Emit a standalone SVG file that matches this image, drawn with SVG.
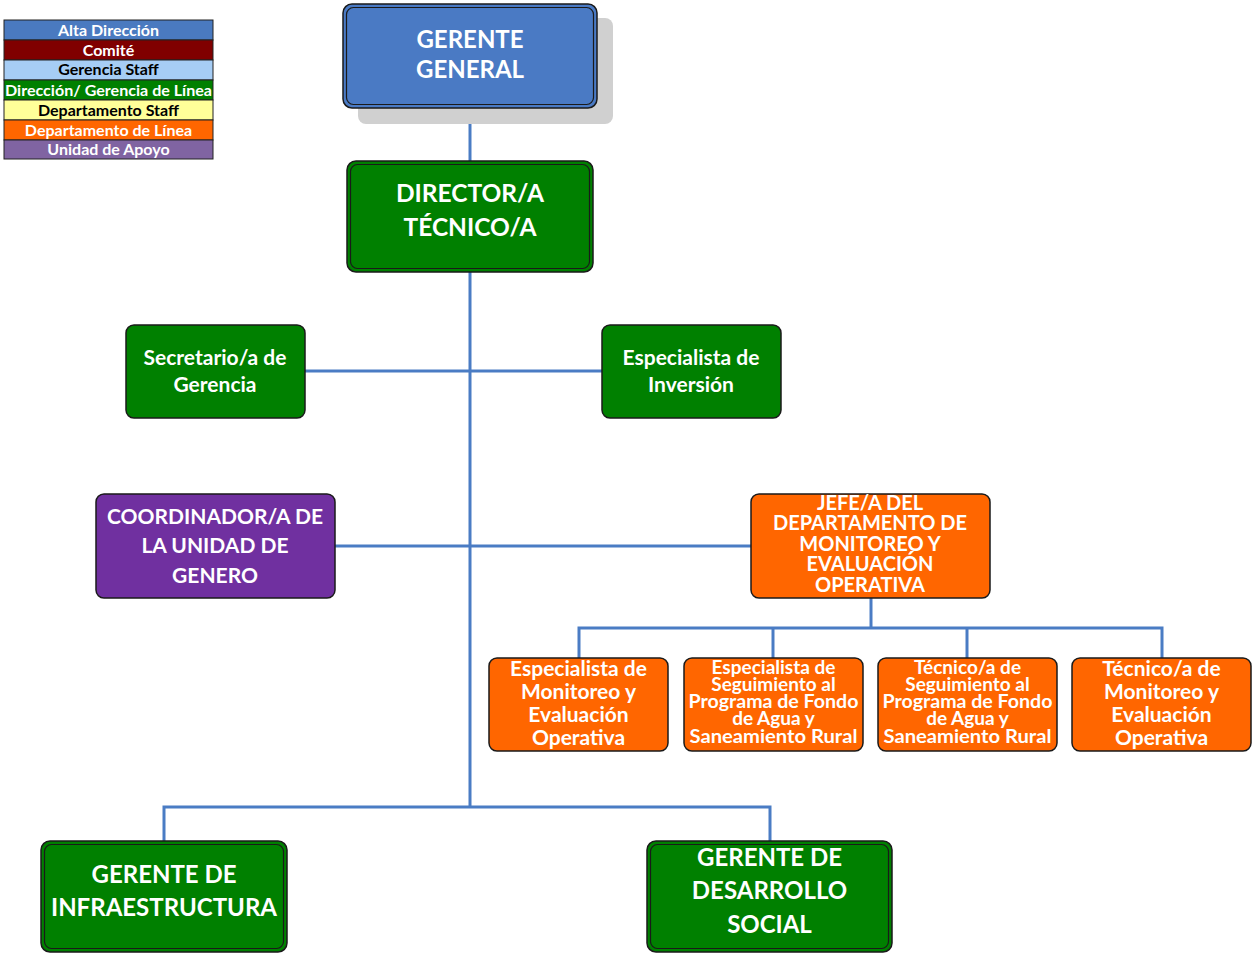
<svg xmlns="http://www.w3.org/2000/svg" width="1252" height="957" viewBox="0 0 1252 957">
<style>
text{font-family:Lato,"Open Sans","Liberation Sans",sans-serif;font-weight:bold;text-anchor:middle}
.w{fill:#fff}
.k{fill:#000}
.box{stroke:#1a1a1a;stroke-width:1.5}
.inner{fill:none;stroke:#1a1a1a;stroke-width:1.2}
.green{fill:#008000}
.orange{fill:#ff6600}
.purple{fill:#7030a0}
.blue{fill:#4a7ac4}
.conn{stroke:#4a7cc4;stroke-width:3;fill:none}
.leg{stroke:#222;stroke-width:1}
.lt{font-size:16px}
</style>
<g id="legend">
<rect class="leg" x="4" y="20" width="209" height="20" fill="#4a7ac0"/>
<rect class="leg" x="4" y="40" width="209" height="20" fill="#800000"/>
<rect class="leg" x="4" y="60" width="209" height="20" fill="#a6cdf5"/>
<rect class="leg" x="4" y="80" width="209" height="20" fill="#008000"/>
<rect class="leg" x="4" y="100" width="209" height="20" fill="#ffff99"/>
<rect class="leg" x="4" y="120" width="209" height="20" fill="#ff6600"/>
<rect class="leg" x="4" y="140" width="209" height="19" fill="#8064a2"/>
<text class="lt w" x="108.5" y="36">Alta Dirección</text>
<text class="lt w" x="108.5" y="56">Comité</text>
<text class="lt k" x="108.5" y="75">Gerencia Staff</text>
<text class="lt w" x="108.5" y="96" textLength="207" lengthAdjust="spacingAndGlyphs">Dirección/ Gerencia de Línea</text>
<text class="lt k" x="108.5" y="116">Departamento Staff</text>
<text class="lt w" x="108.5" y="136">Departamento de Línea</text>
<text class="lt w" x="108.5" y="155">Unidad de Apoyo</text>
</g>
<g id="connectors">
<line class="conn" x1="470" y1="108" x2="470" y2="162"/>
<line class="conn" x1="470" y1="272" x2="470" y2="807"/>
<line class="conn" x1="305" y1="371" x2="602" y2="371"/>
<line class="conn" x1="335" y1="546" x2="751" y2="546"/>
<line class="conn" x1="871" y1="598" x2="871" y2="628"/>
<polyline class="conn" points="579,658 579,628 1162,628 1162,658"/>
<line class="conn" x1="773" y1="628" x2="773" y2="658"/>
<line class="conn" x1="967" y1="628" x2="967" y2="658"/>
<polyline class="conn" points="164,841 164,807 770,807 770,841"/>
</g>
<g id="gerente-general">
<rect x="358" y="18" width="255" height="106" rx="8" fill="#d0d0d0"/>
<rect class="box blue" x="343" y="4" width="254" height="104" rx="9"/>
<rect class="inner" x="346.5" y="7.5" width="247" height="97" rx="7"/>
<text class="w" x="470" y="48" font-size="24">GERENTE</text>
<text class="w" x="470" y="78" font-size="24">GENERAL</text>
</g>
<g id="director-tecnico">
<rect class="box green" x="347" y="161" width="246" height="111" rx="9"/>
<rect class="inner" x="350.5" y="164.5" width="239" height="104" rx="7"/>
<text class="w" x="470" y="202" font-size="24.5">DIRECTOR/A</text>
<text class="w" x="470" y="236" font-size="24.5">TÉCNICO/A</text>
</g>
<g id="secretario">
<rect class="box green" x="126" y="325" width="179" height="93" rx="8"/>
<text class="w" x="215" y="365" font-size="21">Secretario/a de</text>
<text class="w" x="215" y="392" font-size="21">Gerencia</text>
</g>
<g id="especialista-inversion">
<rect class="box green" x="602" y="325" width="179" height="93" rx="8"/>
<text class="w" x="691" y="365" font-size="21">Especialista de</text>
<text class="w" x="691" y="392" font-size="21">Inversión</text>
</g>
<g id="coordinador-genero">
<rect class="box purple" x="96" y="494" width="239" height="104" rx="8"/>
<text class="w" x="215" y="524" font-size="21">COORDINADOR/A DE</text>
<text class="w" x="215" y="553" font-size="21">LA UNIDAD DE</text>
<text class="w" x="215" y="583" font-size="21">GENERO</text>
</g>
<g id="jefe-monitoreo">
<rect class="box orange" x="751" y="494" width="239" height="104" rx="8"/>
<text class="w" x="870" y="510" font-size="20">JEFE/A DEL</text>
<text class="w" x="870" y="530" font-size="20">DEPARTAMENTO DE</text>
<text class="w" x="870" y="551" font-size="20">MONITOREO Y</text>
<text class="w" x="870" y="571" font-size="20">EVALUACIÓN</text>
<text class="w" x="870" y="592" font-size="20">OPERATIVA</text>
</g>
<g id="especialista-monitoreo">
<rect class="box orange" x="489" y="658" width="179" height="93" rx="8"/>
<text class="w" x="578.5" y="676" font-size="21">Especialista de</text>
<text class="w" x="578.5" y="699" font-size="21">Monitoreo y</text>
<text class="w" x="578.5" y="722" font-size="21">Evaluación</text>
<text class="w" x="578.5" y="745" font-size="21">Operativa</text>
</g>
<g id="especialista-seguimiento">
<rect class="box orange" x="684" y="658" width="179" height="93" rx="8"/>
<text class="w" x="773.5" y="674" font-size="19">Especialista de</text>
<text class="w" x="773.5" y="691" font-size="19">Seguimiento al</text>
<text class="w" x="773.5" y="708" font-size="19" textLength="170" lengthAdjust="spacingAndGlyphs">Programa de Fondo</text>
<text class="w" x="773.5" y="725" font-size="19">de Agua y</text>
<text class="w" x="773.5" y="743" font-size="19" textLength="168" lengthAdjust="spacingAndGlyphs">Saneamiento Rural</text>
</g>
<g id="tecnico-seguimiento">
<rect class="box orange" x="878" y="658" width="179" height="93" rx="8"/>
<text class="w" x="967.5" y="674" font-size="19">Técnico/a de</text>
<text class="w" x="967.5" y="691" font-size="19">Seguimiento al</text>
<text class="w" x="967.5" y="708" font-size="19" textLength="170" lengthAdjust="spacingAndGlyphs">Programa de Fondo</text>
<text class="w" x="967.5" y="725" font-size="19">de Agua y</text>
<text class="w" x="967.5" y="743" font-size="19" textLength="168" lengthAdjust="spacingAndGlyphs">Saneamiento Rural</text>
</g>
<g id="tecnico-monitoreo">
<rect class="box orange" x="1072" y="658" width="179" height="93" rx="8"/>
<text class="w" x="1161.5" y="676" font-size="21">Técnico/a de</text>
<text class="w" x="1161.5" y="699" font-size="21">Monitoreo y</text>
<text class="w" x="1161.5" y="722" font-size="21">Evaluación</text>
<text class="w" x="1161.5" y="745" font-size="21">Operativa</text>
</g>
<g id="gerente-infraestructura">
<rect class="box green" x="41" y="841" width="246" height="111" rx="9"/>
<rect class="inner" x="44.5" y="844.5" width="239" height="104" rx="7"/>
<text class="w" x="164" y="883" font-size="24">GERENTE DE</text>
<text class="w" x="164" y="916" font-size="24">INFRAESTRUCTURA</text>
</g>
<g id="gerente-desarrollo-social">
<rect class="box green" x="647" y="841" width="245" height="111" rx="9"/>
<rect class="inner" x="650.5" y="844.5" width="238" height="104" rx="7"/>
<text class="w" x="769.5" y="866" font-size="24">GERENTE DE</text>
<text class="w" x="769.5" y="899" font-size="24">DESARROLLO</text>
<text class="w" x="769.5" y="933" font-size="24">SOCIAL</text>
</g>
</svg>
